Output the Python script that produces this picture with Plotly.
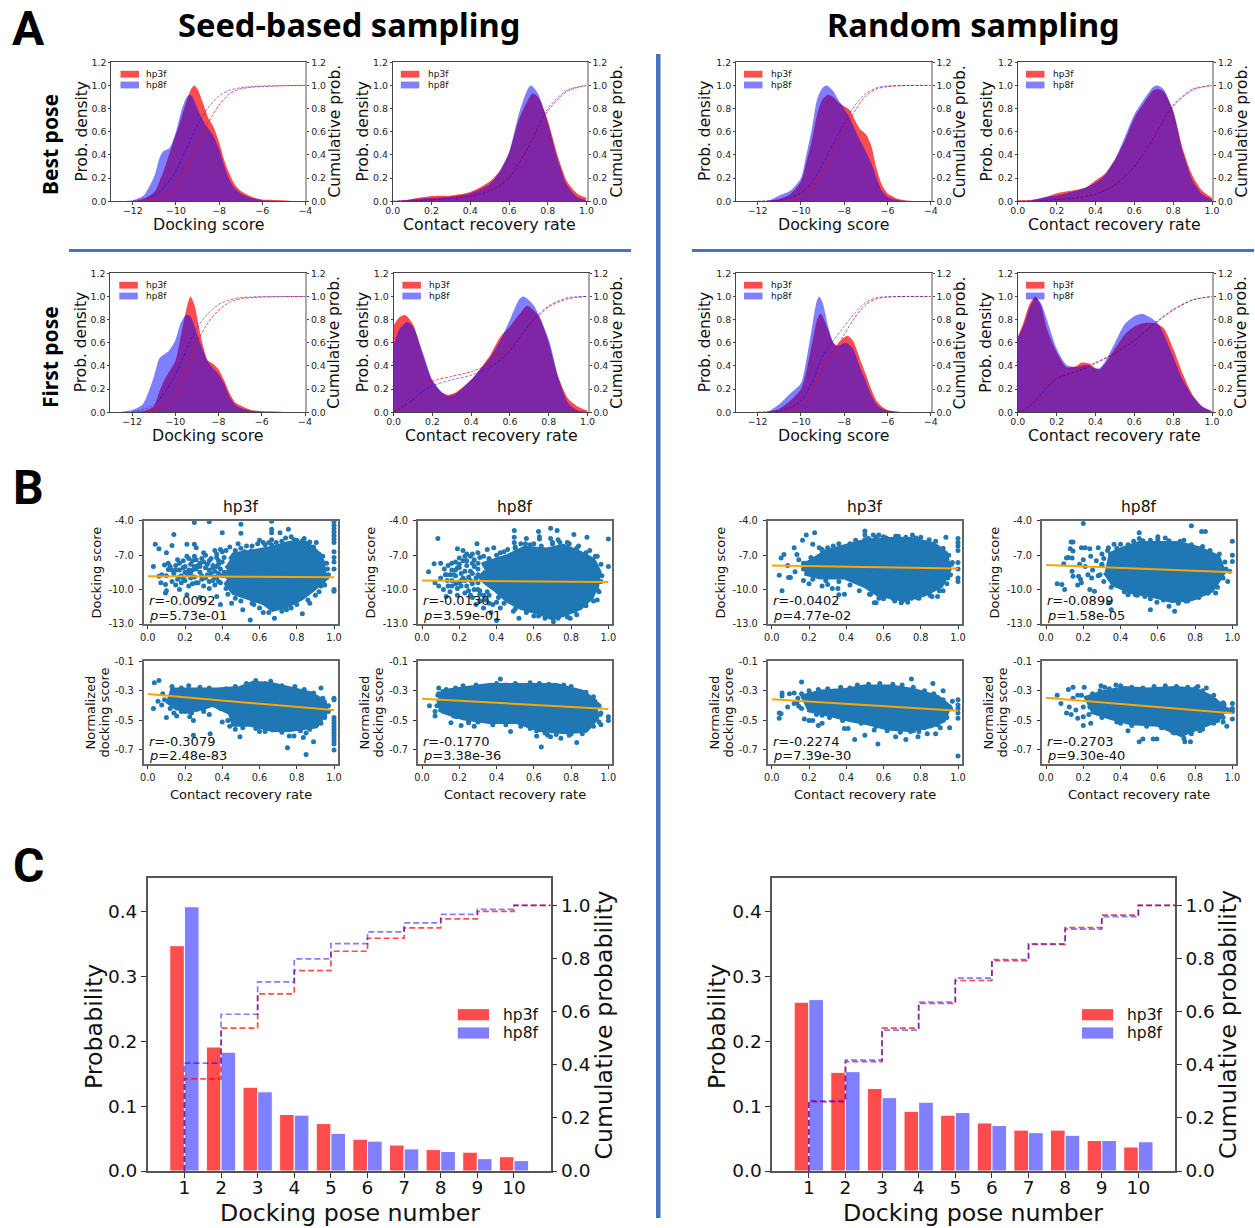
import plotly.graph_objects as go

W, H = 1255, 1228
RED = "rgba(255,0,0,0.7)"
BLUE = "rgba(0,0,255,0.5)"
DOT = "#1f77b4"
ORANGE = "#ffa500"
RULE = "#4472C4"
BODY = "DejaVu Sans, sans-serif"
HEAD = "Noto Sans, Open Sans, sans-serif"
LETTER = "Roboto, Noto Sans, sans-serif"

# ---------------------------------------------------------------- panel A data
cum_dock_x = [-12, -11, -10.5, -10, -9.5, -9, -8.5, -8, -7.5, -7, -6.5, -6, -5, -4]
cum_crr_x = [0, .1, .2, .3, .4, .5, .6, .7, .8, .9, 1]
cum_crr_first_x = [0, .05, .1, .15, .2, .3, .4, .5, .6, .7, .8, .9, 1]

seed_best_dock_r_x = [-12, -11.5, -11, -10.75, -10.5, -10.2, -10, -9.75, -9.5, -9.3, -9.15, -9, -8.75, -8.5, -8.25, -8, -7.75, -7.5, -7.25, -7, -6.5, -6, -5.5, -5, -4.5, -4]
seed_best_dock_r_y = [0, .02, .08, .18, .3, .47, .58, .72, .87, .97, 1, .97, .85, .72, .64, .51, .35, .23, .14, .09, .04, .015, .012, .01, .002, 0]
seed_best_dock_b_x = [-12.5, -12, -11.5, -11, -10.75, -10.6, -10.3, -10, -9.75, -9.5, -9.35, -9.2, -9, -8.75, -8.5, -8.25, -8, -7.75, -7.5, -7.25, -7, -6.5, -6, -5, -4]
seed_best_dock_b_y = [.003, .01, .05, .22, .38, .43, .46, .6, .78, .9, .92, .89, .8, .7, .63, .56, .45, .3, .18, .11, .07, .03, .01, .003, 0]
seed_best_dock_cr = [0, .01, .04, .12, .27, .49, .68, .83, .93, .97, .985, .99, .998, 1]
seed_best_dock_cb = [0, .05, .13, .26, .46, .66, .81, .91, .96, .98, .99, .995, .999, 1]

seed_best_crr_r_x = [0, .1, .2, .3, .4, .5, .55, .6, .65, .7, .72, .75, .8, .85, .9, .95, 1]
seed_best_crr_r_y = [0, .02, .045, .05, .08, .17, .26, .42, .7, .88, .93, .9, .7, .4, .17, .07, .03]
seed_best_crr_b_x = [0, .1, .2, .3, .4, .5, .55, .6, .65, .7, .715, .75, .8, .85, .9, .95, 1]
seed_best_crr_b_y = [0, .015, .03, .04, .07, .15, .25, .42, .75, .98, 1, .93, .68, .37, .14, .04, .01]
seed_best_crr_cr = [0, .005, .02, .035, .06, .1, .22, .47, .78, .95, 1]
seed_best_crr_cb = [0, .003, .013, .025, .045, .085, .2, .47, .8, .96, 1]

seed_first_dock_r_x = [-12, -11.5, -11, -10.75, -10.5, -10.25, -10, -9.75, -9.5, -9.3, -9.1, -9, -8.75, -8.5, -8.25, -8, -7.75, -7.5, -7.25, -7, -6.5, -6, -5.5, -5, -4]
seed_first_dock_r_y = [0, .01, .05, .17, .28, .36, .44, .65, .88, 1, .92, .83, .6, .45, .42, .37, .28, .17, .09, .06, .02, .01, .008, .002, 0]
seed_first_dock_b_x = [-12.5, -12, -11.5, -11, -10.75, -10.6, -10.3, -10, -9.75, -9.5, -9.3, -9, -8.75, -8.5, -8.25, -8, -7.75, -7.5, -7.25, -7, -6.5, -6, -5, -4]
seed_first_dock_b_y = [.005, .02, .07, .3, .46, .49, .53, .62, .77, .84, .83, .68, .55, .44, .38, .33, .25, .14, .07, .04, .015, .005, .002, 0]
seed_first_dock_cr = [0, .02, .06, .14, .33, .6, .77, .88, .95, .98, .99, .995, .998, 1]
seed_first_dock_cb = [0, .06, .17, .32, .53, .73, .85, .93, .97, .99, .995, .998, .999, 1]

seed_first_crr_r_x = [0, .03, .06, .1, .15, .2, .25, .28, .32, .4, .45, .5, .55, .6, .65, .69, .75, .8, .85, .9, .95, 1]
seed_first_crr_r_y = [.75, .82, .84, .76, .5, .27, .17, .15, .17, .28, .38, .5, .65, .74, .85, .92, .83, .6, .3, .12, .05, .015]
seed_first_crr_b_x = [0, .03, .07, .1, .15, .2, .25, .28, .32, .4, .45, .5, .55, .6, .65, .67, .72, .8, .85, .9, .95, 1]
seed_first_crr_b_y = [.58, .72, .78, .74, .52, .28, .17, .14, .16, .28, .38, .48, .62, .8, .98, 1, .93, .63, .3, .08, .015, .003]
seed_first_crr_cr = [0, .07, .15, .23, .27, .31, .35, .42, .55, .75, .91, .98, 1]
seed_first_crr_cb = [0, .05, .11, .18, .23, .28, .32, .39, .53, .76, .92, .99, 1]

rand_best_dock_r_x = [-12, -11.5, -11, -10.5, -10, -9.75, -9.5, -9.25, -9, -8.75, -8.5, -8.25, -8, -7.75, -7.5, -7.25, -7, -6.75, -6.5, -6.25, -6, -5.5, -5, -4]
rand_best_dock_r_y = [0, .005, .02, .06, .17, .33, .52, .75, .88, .92, .9, .85, .82, .79, .7, .62, .58, .48, .28, .14, .07, .02, .005, 0]
rand_best_dock_b_x = [-12, -11.5, -11, -10.5, -10, -9.75, -9.5, -9.25, -9, -8.8, -8.5, -8.25, -8, -7.75, -7.5, -7.25, -7, -6.75, -6.5, -6.25, -6, -5.5, -5, -4]
rand_best_dock_b_y = [0, .005, .05, .09, .2, .4, .62, .88, .98, 1, .95, .87, .8, .72, .62, .52, .43, .33, .2, .09, .04, .01, .002, 0]
rand_best_dock_cr = [0, .005, .02, .05, .12, .27, .44, .62, .78, .91, .97, .99, 1, 1]
rand_best_dock_cb = [0, .01, .03, .07, .16, .32, .5, .67, .83, .93, .98, .995, 1, 1]

rand_best_crr_r_x = [0, .05, .1, .15, .2, .25, .3, .35, .4, .45, .5, .55, .6, .65, .7, .72, .75, .8, .85, .9, .95, 1]
rand_best_crr_r_y = [.01, .01, .02, .04, .07, .085, .1, .12, .18, .24, .36, .52, .72, .85, .96, .97, .95, .78, .45, .22, .09, .03]
rand_best_crr_b_y = [0, 0, .02, .04, .05, .07, .09, .12, .16, .23, .36, .55, .75, .88, .99, 1, .97, .78, .43, .18, .06, .015]
rand_best_crr_cr = [0, .005, .02, .03, .07, .15, .3, .54, .82, .96, 1]
rand_best_crr_cb = [0, .003, .015, .03, .06, .14, .3, .55, .83, .97, 1]

rand_first_dock_r_x = [-12, -11.5, -11, -10.5, -10, -9.75, -9.5, -9.25, -9.1, -9, -8.75, -8.5, -8.35, -8.1, -7.85, -7.6, -7.25, -7, -6.75, -6.5, -6.25, -6, -5.5, -5, -4]
rand_first_dock_r_y = [0, .005, .03, .1, .2, .35, .58, .8, .85, .83, .72, .6, .58, .63, .66, .62, .45, .33, .2, .1, .05, .02, .005, 0, 0]
rand_first_dock_b_x = [-12, -11.5, -11, -10.5, -10, -9.75, -9.5, -9.25, -9.15, -9, -8.75, -8.5, -8.35, -8.1, -7.9, -7.6, -7.25, -7, -6.75, -6.5, -6.25, -6, -5.5, -5, -4]
rand_first_dock_b_y = [0, .01, .07, .16, .25, .45, .72, .97, 1, .95, .75, .6, .57, .59, .6, .55, .38, .27, .15, .07, .03, .015, .003, 0, 0]
rand_first_dock_cr = [0, .005, .02, .06, .18, .38, .52, .67, .82, .93, .98, .995, 1, 1]
rand_first_dock_cb = [0, .01, .04, .1, .25, .48, .62, .74, .86, .95, .99, .997, 1, 1]

rand_first_crr_r_x = [0, .03, .06, .09, .12, .15, .2, .25, .3, .33, .37, .4, .42, .45, .5, .55, .6, .65, .7, .75, .8, .85, .9, .95, 1]
rand_first_crr_r_y = [.65, .78, .93, 1, .92, .72, .52, .39, .4, .43, .42, .38, .37, .42, .55, .67, .74, .77, .77, .73, .55, .33, .15, .05, .01]
rand_first_crr_b_x = [0, .03, .06, .09, .12, .15, .2, .25, .3, .35, .4, .42, .45, .5, .55, .6, .64, .68, .72, .75, .8, .85, .9, .95, 1]
rand_first_crr_b_y = [.65, .75, .9, .99, .94, .8, .55, .41, .39, .41, .38, .38, .44, .6, .76, .83, .85, .82, .77, .68, .48, .28, .14, .05, .01]
rand_first_crr_cr = [0, .04, .13, .22, .3, .36, .43, .51, .62, .76, .88, .97, 1]
rand_first_crr_cb = [0, .04, .12, .21, .29, .35, .42, .51, .62, .76, .89, .97, 1]

# ---------------------------------------------------------------- panel B data
# "core" = outline of the solid, overlapped region; "pts" and "edge" = individually visible dots
seed_3f_score_core = [(.44,-7.4),(.46,-6.94),(.57,-6.65),(.67,-6.36),(.76,-5.92),(.85,-5.92),(.905,-6.65),(.94,-7.53),(.95,-8.69),(.93,-9.42),(.89,-10.0),(.83,-10.73),(.745,-11.46),(.67,-11.76),(.62,-11.17),(.53,-10.73),(.46,-10.3),(.42,-9.5),(.44,-9.1),(.41,-8.7),(.44,-8.3),(.42,-7.9)]
seed_3f_score_pts = [(.25,-4.15),(.33,-4.1),(.5,-4.3),(.5,-5.1),(.665,-4.05),(.665,-4.75),(.665,-5.05),(.71,-5.05),(.755,-4.75),(.40,-5.05),(.14,-5.2),(.04,-6.05),(.13,-6.15),(.06,-6.45),(.10,-6.8),(.21,-6.05),(.25,-6.05),(.26,-6.35),(.30,-6.8),(.39,-6.5),(.36,-6.6),(.40,-6.7),(.485,-6),(.6,-5.7),(.665,-5.65),(.665,-6.1),(.63,-6.1),(.785,-5.65),(.84,-5.55),(.905,-5.9),(.52,-6.7),(.555,-6.65),(1,-4.1),(1,-4.4),(1,-4.7),(1,-5),(1,-5.3),(1,-5.6),(1,-5.9),(1,-6.7),(1,-7.2),(1,-7.6),(1,-8.2),(1,-10),(1,-10.15),(.97,-8.7),(.93,-9.7),(.945,-9.2),(.03,-8),(.09,-7.85),(.075,-8.7),(.06,-8.85),(.07,-9.4),(.095,-9.55),(.095,-10.3),(.10,-10.1),(.14,-8.4),(.11,-8.25),(.17,-10),(.21,-10.45),(.28,-10.7),(.37,-10.6),(.39,-11.3),(.45,-11.2),(.47,-10.75),(.55,-12.65),(.51,-11.75),(.62,-12),(.68,-12.5),(.745,-11.75),(.83,-12.1),(.87,-11.2),(.56,-11.2),(.15,-7.9),(.17,-8.3),(.19,-7.5),(.2,-8.0),(.21,-8.6),(.22,-7.3),(.23,-7.8),(.24,-8.3),(.25,-8.9),(.26,-7.4),(.27,-7.9),(.28,-8.5),(.29,-9.1),(.3,-7.6),(.31,-8.1),(.32,-8.7),(.33,-9.3),(.34,-7.3),(.35,-7.9),(.36,-8.4),(.37,-9.0),(.38,-7.5),(.39,-8.2),(.4,-8.8),(.16,-9.1),(.18,-9.4),(.2,-9.2),(.22,-9.7),(.24,-9.5),(.27,-9.4),(.3,-9.7),(.33,-9.9),(.36,-9.6),(.14,-8.6),(.13,-9.3),(.15,-9.6),(.18,-8.8),(.23,-9),(.26,-8.2),(.29,-7.3),(.31,-7),(.34,-8.6),(.37,-8),(.39,-9.4),(.12,-8.0),(.1,-8.8),(.11,-7.7),(.16,-7.4),(.21,-7.1),(.25,-7.1),(.37,-6.9),(.41,-7.2),(.38,-7.8),(.36,-8.9),(.38,-9.3),(.35,-8.1),(.33,-7.5),(.33,-8.3),(.31,-9),(.28,-8),(.25,-8),(.22,-8.3),(.19,-8.1),(.17,-7.7),(.26,-9.4),(.29,-8.8),(.23,-8.6),(.35,-9.2),(.37,-7.2),(.32,-7.8),(.4,-7.6),(.41,-8.5),(.38,-8.6),(.2,-8.5),(.24,-7.5),(.28,-7.7),(.19,-9),(.15,-8.3),(.13,-8.3),(.17,-8.9)]
seed_3f_score_edge = [(.42,-6.6),(.44,-6.3),(.47,-6.6),(.5,-6.4),(.53,-6.2),(.56,-6.2),(.59,-6),(.62,-5.9),(.65,-5.9),(.69,-5.9),(.72,-5.8),(.74,-5.5),(.77,-5.4),(.8,-5.7),(.83,-5.75),(.87,-5.85),(.89,-6.3),(.92,-6.9),(.94,-7.1),(.96,-7.7),(.965,-8.2),(.96,-9),(.95,-9.6),(.92,-10.2),(.9,-10.5),(.86,-10.9),(.8,-11.3),(.77,-11.6),(.72,-11.9),(.65,-12),(.6,-11.6),(.57,-11.3),(.5,-11),(.43,-10.4),(.42,-9.9)]

seed_8f_score_core = [(.32,-7.8),(.46,-7.07),(.55,-6.35),(.67,-6.5),(.76,-6.2),(.85,-6.8),(.92,-7.4),(.95,-8.4),(.94,-9.7),(.91,-10.7),(.85,-11.6),(.76,-12.2),(.70,-12.5),(.62,-12),(.53,-11.6),(.46,-11),(.39,-10),(.34,-9.4),(.31,-8.9),(.34,-8.4)]
seed_8f_score_pts = [(.085,-5.55),(.495,-4.85),(.495,-5.45),(.495,-5.9),(.625,-4.95),(.63,-5.4),(.63,-5.6),(.69,-4.65),(.725,-4.85),(.69,-5.55),(.73,-5.65),(.815,-5.2),(.885,-5.45),(1,-5.6),(1,-8),(.56,-5.55),(.555,-6),(.295,-6),(.385,-6.35),(.35,-6.5),(.19,-6.45),(.22,-6.6),(.30,-6.8),(.26,-7.1),(.23,-7.1),(.2,-7.25),(.065,-7.75),(.1,-7.7),(.035,-8.45),(.1,-9),(.07,-9.4),(.09,-9.7),(.115,-10),(.125,-8.7),(.135,-9.2),(.95,-9.3),(.95,-8.5),(.94,-7.1),(.94,-10),(.94,-10.9),(.83,-12.2),(.40,-12.7),(.37,-12),(.42,-11.6),(.49,-11.9),(.52,-12.5),(.625,-12.3),(.705,-12.8),(.795,-12.5),(.14,-7.9),(.16,-8.3),(.18,-7.6),(.2,-8.1),(.22,-7.5),(.24,-7.9),(.26,-8.4),(.28,-7.4),(.3,-8.7),(.16,-9.2),(.18,-8.8),(.2,-9.4),(.22,-9.0),(.24,-9.7),(.26,-9.2),(.28,-10),(.3,-9.4),(.15,-10.2),(.19,-10.5),(.23,-10.3),(.27,-10.7),(.31,-10.4),(.34,-10.9),(.29,-11.3),(.33,-11.6),(.36,-11.2),(.12,-8.2),(.14,-9.7),(.13,-10.6),(.24,-6.9),(.33,-7.1),(.36,-7.3),(.42,-6.8),(.46,-6.5),(.5,-6.3),(.6,-6),(.7,-6),(.78,-5.9),(.84,-6.2),(.9,-6.6),(.3,-7.7),(.28,-8),(.3,-8.2),(.27,-8.6),(.29,-9),(.27,-9.5),(.25,-8.9),(.23,-8.4),(.21,-8.6),(.19,-8.1),(.17,-8.7),(.15,-8.7),(.21,-9.7),(.19,-9.9),(.25,-10.1),(.3,-10),(.24,-7.5),(.27,-7.7),(.2,-7.8),(.18,-8.3),(.16,-7.7),(.33,-10.5),(.36,-10.5),(.27,-6.9),(.31,-7.2),(.23,-9.2),(.21,-9.2),(.18,-9.5),(.16,-9.7),(.13,-8.7),(.26,-10.5),(.31,-11),(.38,-11.3),(.4,-11.1)]
seed_8f_score_edge = [(.36,-7.4),(.4,-7),(.44,-6.7),(.5,-6.4),(.53,-6),(.58,-6.1),(.64,-6.2),(.7,-5.9),(.74,-5.9),(.79,-6),(.83,-6.4),(.88,-6.8),(.93,-7.1),(.96,-7.8),(.965,-8.8),(.96,-9.3),(.95,-10.2),(.92,-11),(.88,-11.4),(.82,-11.9),(.78,-12.4),(.73,-12.5),(.66,-12.5),(.6,-12.3),(.56,-12),(.5,-11.7),(.44,-11.2),(.41,-10.7),(.35,-10.2),(.31,-10.1)]

seed_3f_norm_core = [(.12,-.29),(.23,-.29),(.37,-.29),(.495,-.28),(.565,-.245),(.67,-.255),(.76,-.28),(.87,-.315),(.95,-.37),(.96,-.44),(.905,-.54),(.76,-.565),(.67,-.565),(.55,-.53),(.46,-.53),(.44,-.45),(.35,-.395),(.26,-.43),(.155,-.42),(.10,-.37)]
seed_3f_norm_pts = [(.035,-.245),(.06,-.23),(.03,-.42),(.055,-.37),(.10,-.48),(.075,-.395),(.14,-.45),(.155,-.47),(.225,-.475),(.245,-.5),(.235,-.45),(.245,-.6),(.335,-.59),(.495,-.61),(.40,-.51),(.44,-.54),(.6,-.575),(.67,-.565),(.76,-.605),(.785,-.605),(.835,-.615),(.85,-.585),(.75,-.685),(.89,-.645),(.85,-.73),(.93,-.28),(1,-.35),(1,-.36),(1,-.48),(1,-.5),(1,-.52),(1,-.54),(1,-.56),(1,-.58),(1,-.6),(1,-.62),(1,-.64),(1,-.66),(1,-.7),(.95,-.48),(.97,-.44),(.2,-.44),(.3,-.44),(.33,-.46)]
seed_3f_norm_edge = [(.13,-.27),(.18,-.28),(.22,-.265),(.28,-.275),(.33,-.28),(.42,-.285),(.47,-.27),(.53,-.25),(.58,-.23),(.63,-.25),(.66,-.235),(.72,-.265),(.79,-.27),(.84,-.29),(.89,-.315),(.94,-.35),(.97,-.4),(.95,-.47),(.93,-.52),(.87,-.56),(.82,-.57),(.72,-.58),(.63,-.575),(.58,-.555),(.51,-.55),(.47,-.56),(.43,-.5),(.39,-.42),(.3,-.42),(.22,-.44),(.18,-.44),(.12,-.42),(.09,-.36),(.08,-.32)]

seed_8f_norm_core = [(.10,-.305),(.27,-.28),(.36,-.26),(.54,-.26),(.72,-.26),(.86,-.305),(.93,-.37),(.94,-.485),(.88,-.57),(.77,-.58),(.63,-.565),(.505,-.51),(.36,-.51),(.22,-.485),(.11,-.44),(.085,-.36)]
seed_8f_norm_pts = [(.42,-.22),(.04,-.4),(.07,-.47),(.07,-.44),(.155,-.515),(.21,-.535),(.25,-.515),(.28,-.54),(.15,-.44),(.185,-.475),(.475,-.575),(.615,-.57),(.615,-.605),(.64,-.68),(.69,-.61),(.745,-.62),(.83,-.65),(1,-.475),(1,-.5),(.96,-.45),(.96,-.53),(.95,-.51),(.94,-.39),(.8,-.59),(.675,-.6),(.09,-.32)]
seed_8f_norm_edge = [(.09,-.28),(.13,-.29),(.18,-.28),(.22,-.265),(.29,-.26),(.32,-.27),(.4,-.25),(.45,-.26),(.5,-.25),(.58,-.245),(.63,-.25),(.68,-.255),(.76,-.26),(.8,-.27),(.88,-.31),(.92,-.34),(.95,-.4),(.955,-.46),(.92,-.54),(.86,-.59),(.79,-.6),(.72,-.595),(.66,-.585),(.58,-.555),(.53,-.54),(.45,-.53),(.38,-.53),(.3,-.51),(.25,-.505),(.17,-.47),(.1,-.43),(.08,-.4),(.085,-.33)]

rand_3f_score_core = [(.26,-6.8),(.37,-6.35),(.50,-5.75),(.62,-5.6),(.75,-5.6),(.87,-6.05),(.935,-6.8),(.955,-8.25),(.91,-9.7),(.82,-10.45),(.71,-10.9),(.57,-10.45),(.50,-9.7),(.39,-8.95),(.26,-8.95),(.185,-8.65),(.19,-7.5)]
rand_3f_score_pts = [(.23,-5.05),(.185,-5.25),(.165,-5.7),(.12,-6.35),(.065,-6.95),(.05,-7.25),(.135,-6.95),(.145,-7.4),(.085,-7.9),(.04,-8.75),(.09,-8.95),(.10,-8.95),(.125,-8.45),(.055,-10.1),(.22,-6.05),(.255,-6.35),(.3,-6.35),(.50,-4.9),(.50,-5.25),(.50,-5.65),(.545,-5.25),(.575,-5.25),(.615,-5.5),(.665,-5.35),(.755,-5.25),(.775,-5.5),(.845,-5.65),(.935,-5.45),(1,-5.55),(1,-5.9),(1,-6.2),(1,-6.6),(1,-7.65),(1,-8.2),(1,-9),(1,-9.3),(.97,-7.65),(.945,-9),(.92,-10.1),(.89,-10.6),(.27,-9.7),(.3,-9.55),(.325,-9.9),(.355,-9.9),(.39,-10.4),(.36,-10.45),(.55,-11.15),(.56,-11.15),(.525,-10.4),(.575,-10.75),(.695,-11.15),(.70,-11),(.65,-10.75),(.75,-10.75),(.79,-10.75),(.86,-10.6),(.17,-9.2),(.2,-9.5)]
rand_3f_score_edge = [(.27,-6.5),(.33,-6.2),(.36,-6),(.42,-6),(.45,-5.7),(.52,-5.55),(.56,-5.45),(.6,-5.4),(.68,-5.35),(.72,-5.45),(.8,-5.45),(.84,-5.9),(.88,-5.8),(.92,-6.4),(.95,-7),(.965,-7.8),(.96,-8.7),(.94,-9.5),(.9,-10.1),(.85,-10.5),(.78,-10.7),(.73,-11.1),(.66,-11),(.6,-10.8),(.53,-10.4),(.47,-10.1),(.42,-9.6),(.36,-9.3),(.29,-9.2),(.22,-9.1),(.17,-8.2),(.17,-7.7),(.21,-7.2)]

rand_8f_score_core = [(.335,-6.95),(.425,-6.35),(.50,-5.95),(.585,-5.95),(.71,-5.95),(.82,-6.4),(.925,-7.15),(.955,-8.5),(.89,-10.1),(.78,-10.85),(.675,-11),(.57,-10.55),(.46,-10.25),(.36,-9.55),(.315,-8.5)]
rand_8f_score_pts = [(.2,-4.25),(.78,-4.45),(.835,-4.95),(.855,-4.95),(.5,-5.05),(.6,-5.4),(.6,-5.6),(.64,-5.5),(.74,-5.7),(.5,-5.55),(.145,-5.85),(.135,-5.85),(.13,-6.45),(.19,-6.35),(.21,-6.35),(.235,-6.45),(.28,-6.35),(.335,-6.35),(.365,-6.05),(.4,-6.05),(1,-5.8),(1,-7),(1,-7.55),(.985,-8.4),(.975,-9.3),(.095,-7.75),(.11,-7.25),(.12,-7.2),(.14,-7.25),(.145,-6.65),(.14,-8.4),(.145,-8.85),(.175,-8.85),(.185,-9.1),(.225,-8.7),(.245,-9),(.06,-9.5),(.085,-9.55),(.10,-10),(.17,-9.6),(.19,-9.4),(.235,-10),(.26,-10.15),(.335,-11.15),(.35,-11.75),(.44,-10.45),(.48,-10.45),(.53,-10.6),(.56,-11.75),(.595,-11.1),(.66,-11.45),(.69,-11.9),(.71,-11),(.75,-11),(.8,-10.7),(.865,-10.3),(.91,-10.3),(.2,-7.4),(.24,-7.1),(.27,-7.5),(.3,-7.9),(.21,-8.0),(.25,-8.3),(.28,-8.8),(.18,-7.8),(.3,-6.9)]
rand_8f_score_edge = [(.33,-6.6),(.38,-6.4),(.44,-6.1),(.47,-5.8),(.52,-5.75),(.56,-5.7),(.6,-5.8),(.66,-5.75),(.72,-5.8),(.78,-6.1),(.84,-6.25),(.88,-6.6),(.93,-6.9),(.96,-7.6),(.965,-8.2),(.95,-9),(.92,-9.8),(.87,-10.3),(.82,-10.7),(.76,-11),(.71,-11.2),(.63,-10.9),(.56,-10.8),(.49,-10.5),(.42,-10.2),(.35,-9.8),(.31,-9.3),(.29,-8.7),(.3,-7.8),(.31,-7.3)]

rand_3f_norm_core = [(.155,-.34),(.265,-.305),(.39,-.295),(.495,-.27),(.64,-.27),(.765,-.295),(.89,-.34),(.955,-.405),(.925,-.5),(.855,-.54),(.73,-.565),(.62,-.555),(.515,-.52),(.425,-.5),(.32,-.465),(.19,-.43)]
rand_3f_norm_pts = [(.16,-.24),(.75,-.22),(.865,-.25),(.92,-.3),(.055,-.315),(.055,-.335),(.095,-.32),(.12,-.315),(.12,-.385),(.085,-.41),(.145,-.405),(.04,-.45),(.05,-.455),(.04,-.485),(.175,-.49),(.2,-.5),(.22,-.5),(.25,-.535),(.27,-.52),(.27,-.465),(.39,-.555),(.41,-.555),(.445,-.63),(.50,-.6),(.57,-.66),(.55,-.565),(.665,-.61),(.72,-.63),(.745,-.575),(.785,-.61),(.79,-.575),(.835,-.59),(.88,-.59),(.905,-.55),(.955,-.55),(1,-.74),(1,-.36),(1,-.395),(1,-.42),(1,-.45),(1,-.485),(.97,-.37)]
rand_3f_norm_edge = [(.16,-.32),(.2,-.3),(.25,-.29),(.3,-.285),(.37,-.275),(.42,-.28),(.46,-.26),(.52,-.255),(.58,-.25),(.65,-.255),(.7,-.26),(.76,-.275),(.82,-.3),(.87,-.32),(.92,-.36),(.96,-.42),(.94,-.48),(.89,-.53),(.82,-.55),(.76,-.57),(.69,-.58),(.62,-.57),(.56,-.54),(.48,-.52),(.38,-.5),(.31,-.48),(.24,-.46),(.16,-.42),(.135,-.38),(.14,-.35)]

rand_8f_norm_core = [(.205,-.35),(.315,-.305),(.42,-.28),(.545,-.29),(.69,-.28),(.80,-.29),(.885,-.34),(.965,-.42),(.92,-.5),(.80,-.565),(.725,-.6),(.60,-.53),(.455,-.52),(.35,-.485),(.24,-.44)]
rand_8f_norm_pts = [(.06,-.33),(.08,-.385),(.12,-.29),(.145,-.275),(.205,-.275),(.11,-.45),(.135,-.46),(.125,-.41),(.16,-.43),(.17,-.33),(.145,-.35),(.17,-.485),(.2,-.535),(.24,-.52),(.2,-.475),(.235,-.41),(.295,-.265),(.315,-.275),(.375,-.26),(.44,-.57),(.4,-.52),(.5,-.645),(.52,-.625),(.575,-.625),(.595,-.625),(.69,-.585),(.745,-.645),(.775,-.645),(.825,-.57),(.86,-.28),(.92,-.5),(.97,-.54),(.95,-.51),(1,-.385),(1,-.42),(1,-.44),(1,-.49),(.955,-.39),(.815,-.27),(.805,-.28)]
rand_8f_norm_edge = [(.19,-.33),(.25,-.32),(.29,-.3),(.34,-.285),(.4,-.265),(.46,-.275),(.52,-.28),(.58,-.27),(.64,-.265),(.7,-.27),(.76,-.275),(.84,-.3),(.9,-.33),(.95,-.38),(.98,-.43),(.95,-.48),(.9,-.52),(.84,-.56),(.78,-.59),(.74,-.62),(.68,-.58),(.62,-.55),(.54,-.54),(.46,-.535),(.38,-.51),(.3,-.48),(.23,-.46),(.2,-.41)]

reg_seed_3f_score = [-8.84, -8.93]
reg_seed_8f_score = [-9.22, -9.34]
reg_seed_3f_norm = [-.322, -.43]
reg_seed_8f_norm = [-.354, -.422]
reg_rand_3f_score = [-7.9, -8.17]
reg_rand_8f_score = [-7.85, -8.5]
reg_rand_3f_norm = [-.356, -.435]
reg_rand_8f_norm = [-.347, -.451]
reg_x = [0, 1]

# ---------------------------------------------------------------- panel C data
pose_numbers = [1, 2, 3, 4, 5, 6, 7, 8, 9, 10]
seed_prob_3f = [.347, .191, .129, .087, .073, .049, .04, .033, .029, .022]
seed_prob_8f = [.407, .183, .122, .086, .058, .046, .034, .03, .019, .016]
seed_cum_3f = [.347, .538, .667, .754, .827, .876, .915, .949, .977, 1]
seed_cum_8f = [.406, .59, .712, .798, .856, .9, .934, .966, .985, 1]
rand_prob_3f = [.26, .152, .127, .092, .086, .074, .063, .063, .047, .037]
rand_prob_8f = [.264, .153, .113, .106, .09, .07, .059, .055, .047, .045]
rand_cum_3f = [.26, .412, .538, .631, .717, .792, .853, .916, .963, 1]
rand_cum_8f = [.264, .417, .53, .636, .726, .796, .855, .91, .957, 1]

# ---------------------------------------------------------------- helpers
fig = go.Figure()
annotations, shapes = [], []
counter = {"x": 0, "y": 0}
layout = {}


def axname(letter, n):
    return letter + ("" if n == 1 else str(n))


def new_x(L, R, **kw):
    counter["x"] += 1
    n = counter["x"]
    # the x axis is tied to the y axis that the same panel creates next
    layout[axname("xaxis", n)] = dict(domain=[L / W, R / W], anchor=axname("y", counter["y"] + 1), automargin=False, **kw)
    return axname("x", n)


def new_y(T, B, **kw):
    counter["y"] += 1
    n = counter["y"]
    layout[axname("yaxis", n)] = dict(domain=[1 - B / H, 1 - T / H], automargin=False, **kw)
    return axname("y", n)


def text(px, py, s, size, angle=0, anchor="center", family=BODY, color="#111", box=None):
    note = dict(x=px / W, y=1 - py / H, xref="paper", yref="paper", text=s, showarrow=False,
                xanchor=anchor, yanchor="middle", textangle=angle, borderpad=0,
                font=dict(family=family, size=size, color=color))
    if box:
        note["height"] = box
    annotations.append(note)


def rect(x0, y0, x1, y1, color):
    shapes.append(dict(type="rect", xref="paper", yref="paper", x0=x0 / W, x1=x1 / W, y0=1 - y0 / H, y1=1 - y1 / H,
                       fillcolor=color, line=dict(width=0), layer="above"))


def legend_pair(x0, x1, tx, y1, y2, h, size):
    rect(x0, y1 - h, x1, y1 + h, RED)
    rect(x0, y2 - h, x1, y2 + h, BLUE)
    text(tx, y1, "hp3f", size, anchor="left")
    text(tx, y2, "hp8f", size, anchor="left")


def density_panel(L, R, T, B, xrange_, xticks, xfmt, rx, ry, bx, by, cx, cr, cb):
    tick_font = dict(family=BODY, size=9.4, color="#222")
    xa = new_x(L, R, range=xrange_, tickvals=xticks, tickformat=xfmt, showgrid=False, zeroline=False,
               showline=True, linecolor="#444", linewidth=1, mirror=True, ticks="outside", ticklen=3, tickwidth=1,
               tickcolor="#444", tickfont=tick_font, ticklabelstandoff=-3)
    ya = new_y(T, B, range=[0, 1.2], tickvals=[0, .2, .4, .6, .8, 1, 1.2], tickformat=".1f", showgrid=False, zeroline=False,
               showline=True, linecolor="#444", linewidth=1, ticks="outside", ticklen=2, tickwidth=1, tickcolor="#444",
               tickfont=tick_font, anchor=xa)
    yb = new_y(T, B, range=[0, 1.2], tickvals=[0, .2, .4, .6, .8, 1, 1.2], tickformat=".1f", showgrid=False, zeroline=False,
               showline=True, linecolor="#aaa", linewidth=2, ticks="outside", ticklen=2, tickwidth=1, tickcolor="#444",
               tickfont=tick_font, anchor=xa, overlaying=ya, side="right")
    line0 = dict(width=0, shape="spline", smoothing=0.7)
    fig.add_trace(go.Scatter(x=rx, y=ry, mode="lines", fill="tozeroy", fillcolor=RED, line=dict(color=RED, **line0), xaxis=xa, yaxis=ya))
    fig.add_trace(go.Scatter(x=bx, y=by, mode="lines", fill="tozeroy", fillcolor=BLUE, line=dict(color=BLUE, **line0), xaxis=xa, yaxis=ya))
    fig.add_trace(go.Scatter(x=cx, y=cr, mode="lines", line=dict(color=RED, width=1, dash="3px,1.5px", shape="spline", smoothing=0.7), xaxis=xa, yaxis=yb))
    fig.add_trace(go.Scatter(x=cx, y=cb, mode="lines", line=dict(color=BLUE, width=1, dash="3px,1.5px", shape="spline", smoothing=0.7), xaxis=xa, yaxis=yb))


def scatter_panel(L, R, T, B, yr, yticks, core, pts, reg, stat_r, stat_p):
    tick_font = dict(family=BODY, size=9.8, color="#222")
    frame = dict(showline=True, linecolor="#666", linewidth=2, mirror=True, showgrid=False, zeroline=False,
                 ticks="outside", ticklen=3, tickwidth=1, tickcolor="#333", tickfont=tick_font)
    xa = new_x(L, R, range=[-.0215, 1.0215], tickvals=[0, .2, .4, .6, .8, 1], tickformat=".1f", **frame)
    ya = new_y(T, B, range=yr, tickvals=yticks, ticktext=[f"{v:.1f}" for v in yticks], ticklabelstandoff=3, **frame)
    layout[axname("yaxis", counter["y"])]["anchor"] = xa
    fig.add_trace(go.Scatter(x=[p[0] for p in core], y=[p[1] for p in core], mode="lines", fill="toself", fillcolor=DOT,
                             line=dict(color=DOT, width=4), xaxis=xa, yaxis=ya))
    fig.add_trace(go.Scatter(x=[p[0] for p in pts], y=[p[1] for p in pts], mode="markers",
                             marker=dict(color=DOT, size=5, line=dict(width=0)), xaxis=xa, yaxis=ya))
    fig.add_trace(go.Scatter(x=reg_x, y=reg, mode="lines", line=dict(color=ORANGE, width=2), xaxis=xa, yaxis=ya))
    text(L + 4, T + 80, f"<i>r</i>={stat_r}", 13, anchor="left")
    text(L + 4, T + 94.5, f"<i>p</i>={stat_p}", 13, anchor="left")


def bar_panel(L, R, T, B, p3, p8, c3, c8):
    tick_font = dict(family=BODY, size=18.5, color="#111")
    xa = new_x(L, R, range=[0, 11], tickvals=pose_numbers, showgrid=False, zeroline=False, showline=True, linecolor="#555",
               linewidth=1.5, mirror=True, ticks="outside", ticklen=5, tickwidth=1, tickcolor="#333", tickfont=tick_font,
               ticklabelstandoff=-6)
    ya = new_y(T, B, range=[0, .4508], tickvals=[0, .1, .2, .3, .4], tickformat=".1f", showgrid=False, zeroline=False, showline=True,
               linecolor="#555", linewidth=1.5, ticks="outside", ticklen=5, tickwidth=1, tickcolor="#333", tickfont=tick_font, anchor=xa)
    yb = new_y(T, B, range=[0, 1.1016], tickvals=[0, .2, .4, .6, .8, 1], tickformat=".1f", showgrid=False, zeroline=False, showline=True,
               linecolor="#555", linewidth=1.5, ticks="outside", ticklen=5, tickwidth=1, tickcolor="#333", tickfont=tick_font,
               anchor=xa, overlaying=ya, side="right")
    fig.add_trace(go.Bar(x=pose_numbers, y=p3, width=.4, offset=-.4, marker=dict(color=RED, line=dict(color="white", width=1)), xaxis=xa, yaxis=ya))
    fig.add_trace(go.Bar(x=pose_numbers, y=p8, width=.4, offset=0, marker=dict(color=BLUE, line=dict(color="white", width=1)), xaxis=xa, yaxis=ya))
    step_x = [1] + pose_numbers + [11]
    dash = dict(width=1.7, dash="6px,3px", shape="hv")
    fig.add_trace(go.Scatter(x=step_x, y=[0] + c3 + [c3[-1]], mode="lines", line=dict(color=RED, **dash), xaxis=xa, yaxis=yb))
    fig.add_trace(go.Scatter(x=step_x, y=[0] + c8 + [c8[-1]], mode="lines", line=dict(color=BLUE, **dash), xaxis=xa, yaxis=yb))


# ---------------------------------------------------------------- panel A
dock_ticks = [-12, -10, -8, -6, -4]
crr_ticks = [0, .2, .4, .6, .8, 1]
density_panel(111.3, 305.3, 62.3, 201.3, [-13, -4], dock_ticks, "d", seed_best_dock_r_x, seed_best_dock_r_y, seed_best_dock_b_x, seed_best_dock_b_y, cum_dock_x, seed_best_dock_cr, seed_best_dock_cb)
density_panel(392.8, 586.5, 62.3, 201.3, [0, 1], crr_ticks, ".1f", seed_best_crr_r_x, seed_best_crr_r_y, seed_best_crr_b_x, seed_best_crr_b_y, cum_crr_x, seed_best_crr_cr, seed_best_crr_cb)
density_panel(110.4, 305, 273.3, 412.3, [-13, -4], dock_ticks, "d", seed_first_dock_r_x, seed_first_dock_r_y, seed_first_dock_b_x, seed_first_dock_b_y, cum_dock_x, seed_first_dock_cr, seed_first_dock_cb)
density_panel(393.6, 587.5, 273.3, 412.3, [0, 1], crr_ticks, ".1f", seed_first_crr_r_x, seed_first_crr_r_y, seed_first_crr_b_x, seed_first_crr_b_y, cum_crr_first_x, seed_first_crr_cr, seed_first_crr_cb)
density_panel(736, 930.7, 62.3, 201.3, [-13, -4], dock_ticks, "d", rand_best_dock_r_x, rand_best_dock_r_y, rand_best_dock_b_x, rand_best_dock_b_y, cum_dock_x, rand_best_dock_cr, rand_best_dock_cb)
density_panel(1017.8, 1212, 62.3, 201.3, [0, 1], crr_ticks, ".1f", rand_best_crr_r_x, rand_best_crr_r_y, rand_best_crr_r_x, rand_best_crr_b_y, cum_crr_x, rand_best_crr_cr, rand_best_crr_cb)
density_panel(736, 930.7, 273.3, 412.3, [-13, -4], dock_ticks, "d", rand_first_dock_r_x, rand_first_dock_r_y, rand_first_dock_b_x, rand_first_dock_b_y, cum_dock_x, rand_first_dock_cr, rand_first_dock_cb)
density_panel(1017.8, 1212, 273.3, 412.3, [0, 1], crr_ticks, ".1f", rand_first_crr_r_x, rand_first_crr_r_y, rand_first_crr_b_x, rand_first_crr_b_y, cum_crr_first_x, rand_first_crr_cr, rand_first_crr_cb)

for x0, tx, row_dy in [(120.5, 145.4, 0), (400.8, 427, 0), (119.3, 144.6, 211), (402.4, 427.7, 211),
                       (744, 770, 0), (1026, 1051.6, 0), (744, 770, 211), (1026, 1051.6, 211)]:
    legend_pair(x0, x0 + 18.5, tx, 74.2 + row_dy, 85 + row_dy, 3.4, 9)

for (px, py, y0) in [(81, 362, 131.5), (80.5, 362.5, 342.7), (704.6, 986, 131.5), (704.6, 986, 342.7)]:
    text(px, y0, "Prob. density", 15.4, angle=-90)
    text(py, y0, "Prob. density", 15.4, angle=-90)
for (a, b, y0) in [(334, 616, 131.5), (334, 617, 342.7), (959.5, 1241, 131.5), (959.5, 1241, 342.7)]:
    text(a, y0, "Cumulative prob.", 15.4, angle=-90)
    text(b, y0, "Cumulative prob.", 15.4, angle=-90)
for (a, b, y0) in [(209, 489, 224.5), (207.6, 491, 435.5), (833.8, 1114, 224.5), (833.8, 1114, 435.5)]:
    text(a, y0, "Docking score", 15.8)
    text(b, y0, "Contact recovery rate", 15.8)

# ---------------------------------------------------------------- panel B
score_ticks = [-4, -7, -10, -13]
norm_ticks = [-.1, -.3, -.5, -.7]
scatter_panel(143.8, 338, 520.7, 624, [-13, -4], score_ticks, seed_3f_score_core, seed_3f_score_pts + seed_3f_score_edge, reg_seed_3f_score, "-0.0092", "5.73e-01")
scatter_panel(418, 612.4, 520.7, 624, [-13, -4], score_ticks, seed_8f_score_core, seed_8f_score_pts + seed_8f_score_edge, reg_seed_8f_score, "-0.0130", "3.59e-01")
scatter_panel(143.8, 338, 661.3, 764.3, [-.797, -.1], norm_ticks, seed_3f_norm_core, seed_3f_norm_pts + seed_3f_norm_edge, reg_seed_3f_norm, "-0.3079", "2.48e-83")
scatter_panel(418, 612.4, 661.3, 764.3, [-.797, -.1], norm_ticks, seed_8f_norm_core, seed_8f_norm_pts + seed_8f_norm_edge, reg_seed_8f_norm, "-0.1770", "3.38e-36")
scatter_panel(767.8, 962, 520.7, 624, [-13, -4], score_ticks, rand_3f_score_core, rand_3f_score_pts + rand_3f_score_edge, reg_rand_3f_score, "-0.0402", "4.77e-02")
scatter_panel(1042, 1236.4, 520.7, 624, [-13, -4], score_ticks, rand_8f_score_core, rand_8f_score_pts + rand_8f_score_edge, reg_rand_8f_score, "-0.0899", "1.58e-05")
scatter_panel(767.8, 962, 661.3, 764.3, [-.797, -.1], norm_ticks, rand_3f_norm_core, rand_3f_norm_pts + rand_3f_norm_edge, reg_rand_3f_norm, "-0.2274", "7.39e-30")
scatter_panel(1042, 1236.4, 661.3, 764.3, [-.797, -.1], norm_ticks, rand_8f_norm_core, rand_8f_norm_pts + rand_8f_norm_edge, reg_rand_8f_norm, "-0.2703", "9.30e-40")

for cx3, cx8, lab3, lab8 in [(241, 515, 96, 370), (865, 1139, 720, 994)]:
    text(cx3, 507, "hp3f", 15.5)
    text(cx8, 507, "hp8f", 15.5)
    text(cx3, 794.5, "Contact recovery rate", 13)
    text(cx8, 794.5, "Contact recovery rate", 13)
    text(lab3, 572.5, "Docking score", 13, angle=-90)
    text(lab8, 572.5, "Docking score", 13, angle=-90)
    text(lab3 - 6.5, 713, "Normalized", 13, angle=-90)
    text(lab3 + 7.5, 713, "docking score", 13, angle=-90)
    text(lab8 - 6.5, 713, "Normalized", 13, angle=-90)
    text(lab8 + 7.5, 713, "docking score", 13, angle=-90)

# ---------------------------------------------------------------- panel C
bar_panel(147.8, 550.6, 878.3, 1171, seed_prob_3f, seed_prob_8f, seed_cum_3f, seed_cum_8f)
bar_panel(772.2, 1175, 878.3, 1171, rand_prob_3f, rand_prob_8f, rand_cum_3f, rand_cum_8f)
legend_pair(457.8, 489, 502, 1014.7, 1033, 5.6, 15.5)
legend_pair(1082, 1113.2, 1126, 1014.7, 1033, 5.6, 15.5)
for lab, cum, cx in [(94, 603.6, 349.5), (717, 1228, 973)]:
    text(lab, 1027, "Probability", 23.7, angle=-90)
    text(cum, 1025, "Cumulative probability", 23.7, angle=-90)
    text(cx, 1213, "Docking pose number", 23.7)

# ---------------------------------------------------------------- headings and rules
text(349, 24, "<b>Seed-based sampling</b>", 32.6, family=HEAD, color="#000", box=44)
text(973, 24, "<b>Random sampling</b>", 32.6, family=HEAD, color="#000", box=44)
text(28, 28.5, "<b>A</b>", 48, family=LETTER, color="#000")
text(28, 488, "<b>B</b>", 48, family=LETTER, color="#000")
text(28, 865, "<b>C</b>", 48, family=LETTER, color="#000")
text(50, 145, "<b>Best pose</b>", 21, angle=-90, family=HEAD, color="#000")
text(50, 357, "<b>First pose</b>", 21, angle=-90, family=HEAD, color="#000")

rect(656, 54, 660.5, 1218, RULE)
rect(69, 249, 631, 252, RULE)
rect(692, 249, 1254, 252, RULE)

fig.update_layout(template="none", width=W, height=H, margin=dict(l=0, r=0, t=0, b=0), autosize=False, showlegend=False,
                  paper_bgcolor="white", plot_bgcolor="white", hovermode=False, barmode="overlay",
                  annotations=annotations, shapes=shapes, **layout)
fig.write_html("out.html", config={"displayModeBar": False},
               post_script="document.body.style.margin='0';document.body.style.overflow='hidden';")
